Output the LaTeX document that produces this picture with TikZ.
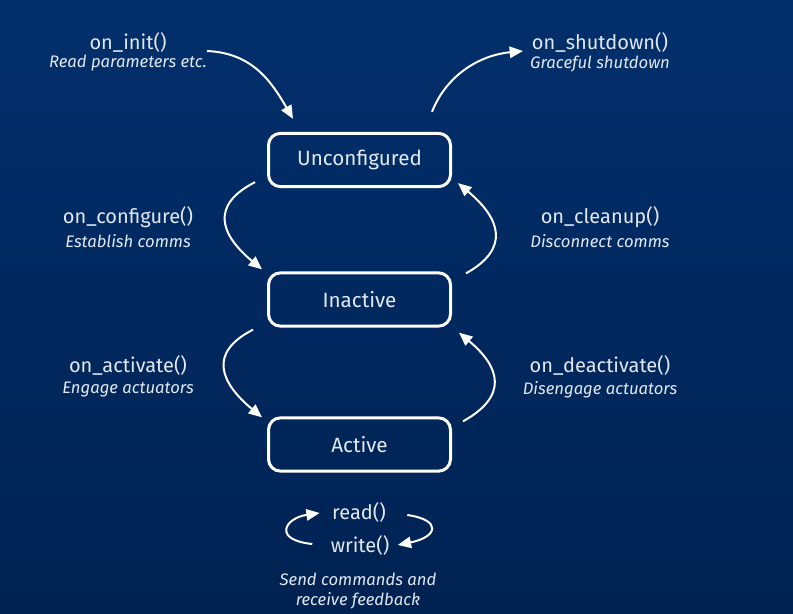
\documentclass[tikz,border=0pt]{standalone}
\usepackage{fontspec}
\setmainfont{Fira Sans}
\usetikzlibrary{arrows.meta}

\definecolor{bgtop}{RGB}{2,47,108}
\definecolor{bgmid}{RGB}{7,54,124}
\definecolor{bgbot}{RGB}{0,34,82}
\definecolor{ink}{RGB}{226,232,240}

\tikzset{every picture/.style={line width=0.75pt}}
\tikzset{
  state/.style={draw=white, line width=2.25pt, rounded corners=9pt, minimum width=136.5pt, minimum height=40pt, text=ink, font=\fontsize{15.5}{18}\selectfont},
  fn/.style={text=ink, font=\fontsize{15}{18}\selectfont, inner sep=0pt},
  note/.style={text=ink, font=\fontsize{12.5}{14.5}\selectfont\itshape, inner sep=0pt},
  arr/.style={draw=white, line width=1.5pt, -{Triangle[length=10pt,width=8.5pt]}}
}

\begin{document}
\begin{tikzpicture}[x=0.75pt,y=-0.75pt]
		%background, sets the size of the diagram
		\fill [top color=bgtop, middle color=bgmid, bottom color=bgbot] (0,0) rectangle (793,614);

		%States
		\node [state] (unconf) at (359.5,160) {Unconfigured};
		\node [state] (inact) at (359.5,299.5) {Inactive};
		\node [state] (act) at (359.5,444.5) {Active};

		% Text Node
		\node [fn] (init) at (128,42) {on\_init()};
		\node [note] (initd) at (128,63) {Read parameters etc.};
		% Text Node
		\node [fn] (shut) at (600,42) {on\_shutdown()};
		\node [note] (shutd) at (600,64) {Graceful shutdown};
		% Text Node
		\node [fn] (conf) at (128,217) {on\_configure()};
		\node [note] (confd) at (128,241) {Establish comms};
		% Text Node
		\node [fn] (clean) at (600,217) {on\_cleanup()};
		\node [note] (cleand) at (600,241) {Disconnect comms};
		% Text Node
		\node [fn] (activ) at (128,365) {on\_activate()};
		\node [note] (activd) at (128,390) {Engage actuators};
		% Text Node
		\node [fn] (deact) at (600,365) {on\_deactivate()};
		\node [note] (deactd) at (600,390) {Disengage actuators};
		% Text Node
		\node [fn] (rd) at (359,512) {read()};
		\node [fn] (wr) at (360,545) {write()};
		\node [note, align=center] (fb) at (358,591) {Send commands and\\receive feedback};

		%free ends
		\coordinate (initstart) at (207,51);
		\coordinate (shutend) at (523,51);

		%Curve Lines
		\draw [arr] (initstart) .. controls +(45,2) and +(-22,-38) .. ([shift={(-66.5,-13)}]unconf.north);
		\draw [arr] ([shift={(-20,-20)}]unconf.north east) .. controls +(15,-38) and +(-42,4) .. (shutend);
		%Curve Lines
		\draw [arr] ([shift={(-12,-6)}]unconf.south west) .. controls +(-45,23) and +(-42,-35) .. ([shift={(-5,-2)}]inact.north west);
		\draw [arr] ([shift={(14,2)}]inact.north east) .. controls +(45,-25) and +(42,35) .. ([shift={(6,-5)}]unconf.south east);
		%Curve Lines
		\draw [arr] ([shift={(-14,2)}]inact.south west) .. controls +(-45,23) and +(-42,-35) .. ([shift={(-5,1)}]act.north west);
		\draw [arr] ([shift={(11,5)}]act.north east) .. controls +(45,-25) and +(42,35) .. ([shift={(7,5)}]inact.south east);
		%Curve Lines
		\draw [arr] ([shift={(-18,-1)}]wr.west) .. controls +(-40,-4) and +(-35,5) .. ([shift={(-12,1)}]rd.west);
		\draw [arr] ([shift={(21,3)}]rd.east) .. controls +(35,5) and +(40,-8) .. ([shift={(8,0)}]wr.east);

\end{tikzpicture}
\end{document}
